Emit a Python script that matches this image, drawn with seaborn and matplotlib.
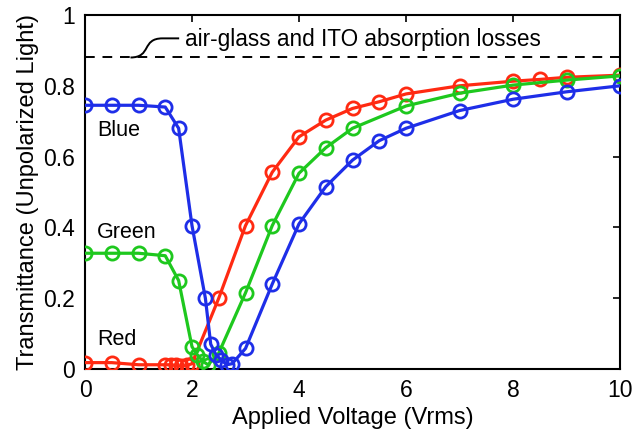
import numpy as np
import pandas as pd
import matplotlib
matplotlib.use("Agg")
import matplotlib.pyplot as plt
from matplotlib.path import Path
from matplotlib.patches import PathPatch
import seaborn as sns

# ---- data ----
x_blue = [0, 0.5, 1, 1.5, 1.75, 2, 2.25, 2.35, 2.45, 2.55, 2.65, 2.75, 3, 3.5, 4, 4.5, 5, 5.5, 6, 7, 8, 9, 10]
y_blue = [0.745, 0.745, 0.745, 0.74, 0.68, 0.405, 0.20, 0.07, 0.04, 0.025, 0.012, 0.015, 0.058, 0.24, 0.41,
          0.515, 0.59, 0.645, 0.68, 0.73, 0.762, 0.783, 0.80]

x_green = [0, 0.5, 1, 1.5, 1.75, 2, 2.1, 2.2, 2.3, 2.5, 3, 3.5, 4, 4.5, 5, 6, 7, 8, 9, 10]
y_green = [0.327, 0.327, 0.327, 0.32, 0.25, 0.063, 0.04, 0.022, 0.012, 0.045, 0.215, 0.405, 0.553,
           0.625, 0.68, 0.743, 0.779, 0.802, 0.816, 0.828]

x_red = [0, 0.5, 1, 1.5, 1.6, 1.7, 1.8, 1.9, 2.0, 2.5, 3, 3.5, 4, 4.5, 5, 5.5, 6, 7, 8, 8.5, 9, 10]
y_red = [0.018, 0.018, 0.012, 0.012, 0.012, 0.01, 0.008, 0.01, 0.015, 0.2, 0.405, 0.556, 0.656, 0.703,
         0.736, 0.755, 0.777, 0.80, 0.813, 0.818, 0.824, 0.83]

loss_level = 0.88
series_names = ["Red", "Green", "Blue"]
x_ticks = [0, 2, 4, 6, 8, 10]
y_ticks = [0, 0.2, 0.4, 0.6, 0.8, 1]
y_tick_labels = ["0", "0.2", "0.4", "0.6", "0.8", "1"]
annotation_text = "air-glass and ITO absorption losses"
x_label = "Applied Voltage (Vrms)"
y_label = "Transmittance (Unpolarized Light)"

colors = {"Red": "#ff2a12", "Green": "#1ec81e", "Blue": "#1e2ee8"}

frames = []
for name, xs, ys in [("Red", x_red, y_red), ("Green", x_green, y_green), ("Blue", x_blue, y_blue)]:
    frames.append(pd.DataFrame({"V": xs, "T": ys, "series": name}))
df = pd.concat(frames, ignore_index=True)

sns.set_style("white")
plt.rcParams["font.family"] = ["Liberation Sans", "DejaVu Sans"]
plt.rcParams["text.color"] = "black"
plt.rcParams["axes.labelcolor"] = "black"

fig = plt.figure(figsize=(6.33, 4.36), dpi=100)
ax = fig.add_axes([85 / 633, 1 - 369 / 436, (620 - 85) / 633, (369 - 15) / 436])

for name in series_names:
    sub = df[df["series"] == name]
    c = colors[name]
    sns.lineplot(data=sub, x="V", y="T", ax=ax, color=c, lw=2.3, marker="o", ms=9.5,
                 mfc="none", mec=c, mew=2.0, estimator=None, sort=False, legend=False, zorder=3)

ax.axhline(loss_level, color="black", lw=1.4, ls=(0, (5, 4)), zorder=2)

# connector curve to annotation
verts = [(0.85, 0.88), (1.25, 0.88), (1.05, 0.934), (1.45, 0.934), (1.76, 0.934)]
codes = [Path.MOVETO, Path.CURVE4, Path.CURVE4, Path.CURVE4, Path.LINETO]
ax.add_patch(PathPatch(Path(verts, codes), fill=False, lw=1.4, color="black", zorder=2))
ax.text(1.87, 0.932, annotation_text, fontsize=16.3, ha="left", va="center", color="black")

ax.text(0.22, 0.675, "Blue", fontsize=15.5, ha="left", va="center", color="black")
ax.text(0.22, 0.387, "Green", fontsize=15.5, ha="left", va="center", color="black")
ax.text(0.22, 0.082, "Red", fontsize=15.5, ha="left", va="center", color="black")

ax.set_xlim(0, 10)
ax.set_ylim(0, 1)
ax.set_xticks(x_ticks)
ax.set_xticklabels([str(t) for t in x_ticks])
ax.set_yticks(y_ticks)
ax.set_yticklabels(y_tick_labels)
ax.tick_params(direction="in", length=5, width=1.2, top=True, right=True,
               labelsize=16.5, pad=7, colors="black")
for s in ax.spines.values():
    s.set_color("black")
    s.set_linewidth(1.5)
    s.set_visible(True)
ax.set_xlabel(x_label, fontsize=17, labelpad=4, color="black")
ax.set_ylabel(y_label, fontsize=17, labelpad=3, color="black")

fig.savefig("out.png", dpi=100)
